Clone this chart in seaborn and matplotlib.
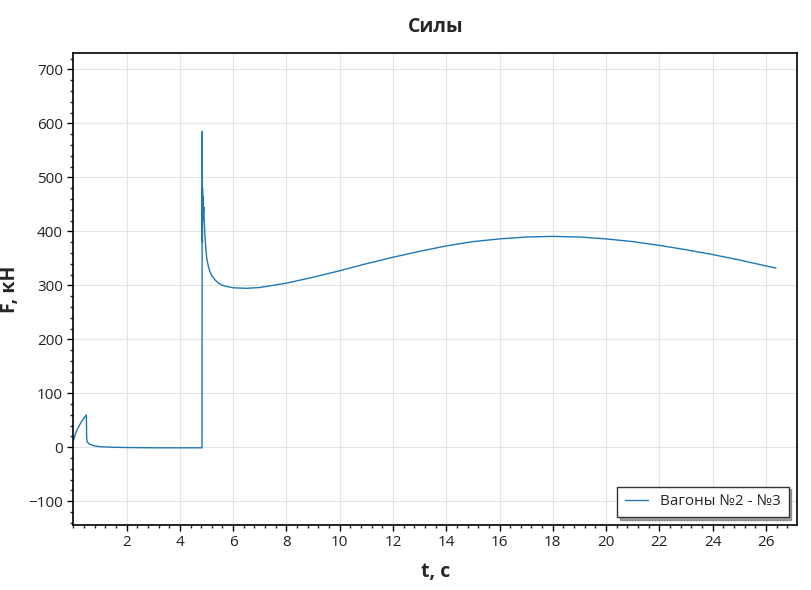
import matplotlib
matplotlib.use("Agg")
import matplotlib.pyplot as plt
import seaborn as sns
import pandas as pd
from matplotlib.ticker import MultipleLocator

# время, с
t_values = [
    0.0, 0.1, 0.2, 0.3, 0.4, 0.49, 0.5, 0.52, 0.6, 0.75, 1.0, 1.5, 2.0, 3.0, 4.82,
    4.83, 4.84, 4.845, 4.85, 4.86, 4.87, 4.88, 4.9, 4.91, 4.94, 4.97, 5.01, 5.07,
    5.13, 5.2, 5.32, 5.45, 5.6, 5.8, 6.0, 6.5, 7.0, 8.0, 9.0, 10.0, 11.0, 12.0,
    13.0, 14.0, 15.0, 16.0, 17.0, 18.0, 19.0, 20.0, 21.0, 22.0, 23.0, 24.0, 25.0,
    26.0, 26.38,
]
# сила, кН
f_values = [
    12, 28, 38, 47, 54, 60, 20, 10, 6, 3, 1, 0, -0.5, -1, -1,
    -1, 585, 380, 480, 420, 465, 430, 445, 424, 393, 370, 350, 335,
    325, 318, 310, 304, 300, 297.5, 295.5, 294.4, 296, 304, 315, 327, 340, 352,
    363, 373, 381, 386, 389.5, 390.7, 389.5, 386, 381, 374, 366, 357, 347,
    336, 332,
]
series_name = "Вагоны №2 - №3"

df = pd.DataFrame({"t": t_values, "F": f_values, "series": series_name})

sns.set_style("white")
plt.rcParams["font.family"] = ["Open Sans", "DejaVu Sans"]

fig = plt.figure(figsize=(8.12, 5.9), dpi=100)
ax = fig.add_axes([0.0903, 0.1102, 0.8916, 0.8005])

sns.lineplot(data=df, x="t", y="F", hue="series", palette=["#1f77b4"],
             linewidth=1.0, ax=ax, sort=False, estimator=None)

ax.set_xlim(0, 27.18)
ax.set_ylim(-144, 731)
ax.xaxis.set_minor_locator(MultipleLocator(0.4))
ax.yaxis.set_major_locator(MultipleLocator(100))
ax.yaxis.set_minor_locator(MultipleLocator(20))
ax.set_xticks(list(range(2, 27, 2)))

ax.grid(True, which="major", color="#e4e4e4", linewidth=0.8)
ax.tick_params(which="major", direction="out", length=4, width=1, labelsize=11,
               left=True, bottom=True, colors="black", labelcolor="#222222")
ax.tick_params(which="minor", direction="out", length=2, width=1,
               left=True, bottom=True)
for s in ax.spines.values():
    s.set_color("black")
    s.set_linewidth(1.2)

ax.set_title("Силы", fontsize=14, fontweight="bold", pad=15)
ax.set_xlabel("t, с", fontsize=14, fontweight="bold", labelpad=8)
ax.set_ylabel("F, кН", fontsize=14, fontweight="bold", labelpad=6)

leg = ax.legend(loc="lower right", fontsize=11, frameon=True, fancybox=False,
                shadow=True, handlelength=1.5, borderpad=0.5, borderaxespad=0,
                bbox_to_anchor=(0.988, 0.017))
leg.get_frame().set_edgecolor("#333333")
leg.get_frame().set_linewidth(1.0)
leg.get_frame().set_alpha(1)

fig.savefig("out.png", dpi=100)
